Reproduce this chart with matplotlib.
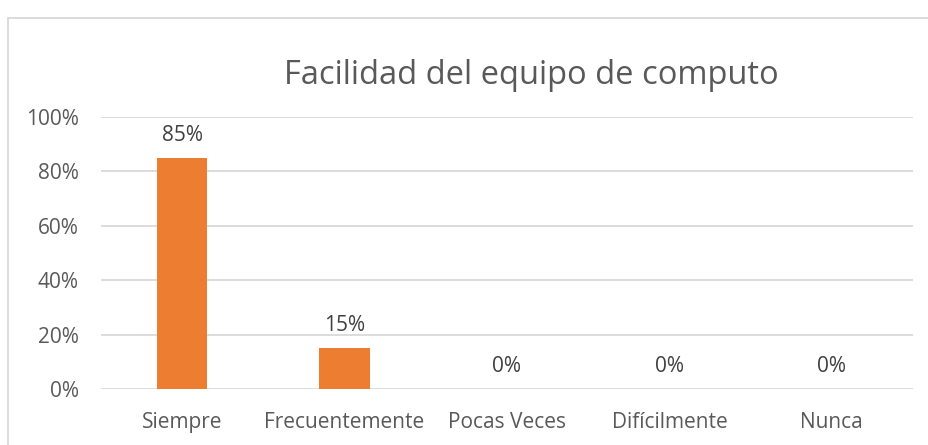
import matplotlib.pyplot as plt
from matplotlib.patches import Rectangle

categories = ['Siempre', 'Frecuentemente', 'Pocas Veces', 'Difícilmente', 'Nunca']
values = [85, 15, 0, 0, 0]
ticks = [0, 20, 40, 60, 80, 100]
title = 'Facilidad del equipo de computo'

plt.rcParams['font.family'] = ['Open Sans', 'DejaVu Sans']
text_color = '#595959'
grid_color = '#d9d9d9'

fig = plt.figure(figsize=(9.29, 4.45), dpi=100)
W, H = 929, 445
ax = fig.add_axes([101 / W, 1 - 389 / H, (913 - 101) / W, (389 - 117) / H])

x = list(range(len(categories)))
bars = ax.bar(x, values, width=0.31, color='#ed7d31', zorder=3)
for xi, v in zip(x, values):
    ax.annotate(f'{v}%', (xi, v), xytext=(0, 16), textcoords='offset points',
                ha='center', va='center', fontsize=15, color='#404040')

ax.set_xlim(-0.5, len(categories) - 0.5)
ax.set_ylim(0, 100)
ax.set_yticks(ticks)
ax.set_yticklabels([f'{t}%' for t in ticks], fontsize=15, color=text_color)
ax.set_xticks(x)
ax.set_xticklabels(categories, fontsize=15, color=text_color)
ax.tick_params(axis='y', length=0, pad=16)
ax.tick_params(axis='x', length=0, pad=16.5)
ax.grid(axis='y', color=grid_color, linewidth=1.3, zorder=0)
for s in ax.spines.values():
    s.set_visible(False)

fig.text(531 / W, 1 - 75 / H, title, ha='center', va='center', fontsize=23.5, color=text_color)

fig.patches.append(Rectangle((8 / W, -0.1), 1.2, 1 - 18 / H + 0.1, transform=fig.transFigure,
                             fill=False, edgecolor='#d9d9d9', linewidth=1.3))

fig.savefig('out.png', dpi=100)
